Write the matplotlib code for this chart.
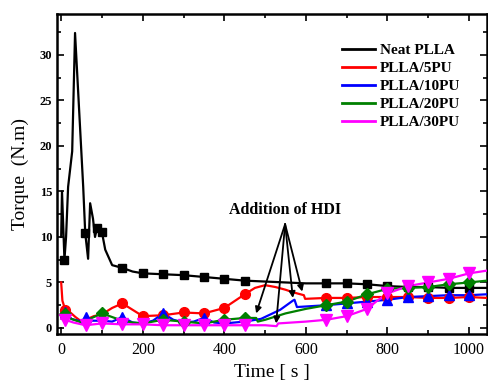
import numpy as np
import matplotlib
matplotlib.use("Agg")
import matplotlib.pyplot as plt
from matplotlib.ticker import MultipleLocator

# ---- data ----
neat_t = [0, 2, 8, 12, 17, 27, 34, 54, 59, 66, 71, 78, 83, 88, 93, 100, 108, 125, 150, 175, 200, 250, 300, 350, 400, 450,
          500, 550, 600, 650, 700, 750, 800, 850, 900, 950, 1000, 1044]
neat_v = [10.0, 15.0, 7.5, 10.0, 15.5, 19.4, 32.4, 15.5, 10.4, 7.6, 13.7, 12.0, 10.0, 11.0, 10.5, 10.5, 8.6, 6.9, 6.6, 6.2, 6.0, 5.9, 5.8, 5.6, 5.4, 5.2,
          5.1, 5.0, 4.9, 4.9, 4.9, 4.8, 4.6, 4.5, 4.5, 4.4, 4.4, 4.4]
neat_m = [8, 59, 88, 100, 150, 200, 250, 300, 350, 400, 450, 650, 700, 750, 800, 850, 900, 950, 1000]

pu5_t = [0, 3, 10, 20, 35, 50, 65, 80, 100, 125, 150, 175, 200, 250, 300, 350, 400, 450, 475, 500, 525, 550, 570, 595, 598,
         650, 700, 750, 800, 850, 900, 950, 1000, 1044]
pu5_v = [5.0, 3.0, 2.0, 1.8, 1.2, 0.7, 1.0, 1.3, 1.5, 2.2, 2.7, 2.0, 1.3, 1.4, 1.7, 1.6, 2.2, 3.7, 4.4, 4.7, 4.5, 4.2, 3.9, 3.6, 3.2,
         3.3, 3.3, 3.4, 3.4, 3.4, 3.3, 3.3, 3.4, 3.3]
pu5_m = [10, 150, 200, 250, 300, 350, 400, 450, 650, 700, 750, 800, 850, 900, 950, 1000]

pu10_t = [0, 10, 25, 50, 60, 75, 100, 125, 150, 175, 200, 225, 250, 275, 300, 325, 350, 375, 400, 425, 450, 490, 537, 568, 572, 578,
          650, 700, 750, 800, 850, 900, 950, 1000, 1044]
pu10_v = [1.9, 1.7, 1.0, 0.7, 1.2, 0.8, 0.8, 0.7, 1.2, 0.6, 0.5, 0.8, 1.6, 0.9, 0.6, 0.7, 1.1, 0.6, 0.5, 0.6, 0.7, 1.0, 2.0, 3.0, 3.1, 2.3,
          2.5, 2.7, 2.9, 3.1, 3.4, 3.5, 3.6, 3.6, 3.7]
pu10_m = [10, 60, 150, 250, 350, 650, 700, 750, 800, 850, 900, 950, 1000]

pu20_t = [0, 10, 25, 50, 75, 100, 125, 150, 175, 200, 250, 300, 350, 400, 450, 478, 482, 500, 550, 600,
          650, 700, 750, 800, 850, 900, 950, 1000, 1044]
pu20_v = [1.6, 1.5, 1.0, 0.6, 1.1, 1.6, 1.2, 0.8, 0.6, 0.5, 0.9, 0.7, 0.5, 0.9, 1.1, 1.1, 0.7, 0.9, 1.6, 2.1,
          2.5, 2.9, 3.7, 4.3, 4.4, 4.5, 4.8, 5.0, 5.2]
pu20_m = [10, 100, 250, 300, 400, 450, 650, 700, 750, 800, 850, 900, 950, 1000]

pu30_t = [0, 10, 30, 60, 100, 150, 200, 250, 300, 350, 400, 450, 500, 528, 532, 600, 650, 700, 750, 775, 800, 850, 900, 950, 1000, 1044]
pu30_v = [1.0, 0.9, 0.6, 0.3, 0.5, 0.4, 0.4, 0.3, 0.3, 0.3, 0.3, 0.3, 0.3, 0.2, 0.5, 0.7, 0.9, 1.3, 2.1, 3.0, 3.8, 4.6, 5.0, 5.4, 6.0, 6.3]
pu30_m = [10, 60, 100, 150, 200, 250, 300, 350, 400, 450, 650, 700, 750, 800, 850, 900, 950, 1000]

labels = ["Neat PLLA", "PLLA/5PU", "PLLA/10PU", "PLLA/20PU", "PLLA/30PU"]
annot_text = "Addition of HDI"
annot_xy = (549, 11.4)
arrow_tips = [(478, 1.6), (527, 0.5), (568, 3.3), (591, 4.0)]

x_ticks = [0, 200, 400, 600, 800, 1000]
y_ticks = [0, 5, 10, 15, 20, 25, 30]

# ---- plotting ----
plt.rcParams['font.family'] = ['Liberation Serif', 'DejaVu Serif']
fig = plt.figure(figsize=(4.88, 3.85), dpi=100)
ax = fig.add_axes([0.117, 0.1325, 0.881, 0.8315])

series = [
    (neat_t, neat_v, neat_m, 'black', 's'),
    (pu5_t, pu5_v, pu5_m, 'red', 'o'),
    (pu10_t, pu10_v, pu10_m, 'blue', '^'),
    (pu20_t, pu20_v, pu20_m, 'green', 'D'),
    (pu30_t, pu30_v, pu30_m, 'magenta', 'v'),
]
ms = {'s': 6, 'o': 7, '^': 7.5, 'D': 6, 'v': 8}
for (t, v, m, c, mk), lab in zip(series, labels):
    t = np.asarray(t); v = np.asarray(v)
    ax.plot(t, v, color=c, lw=1.6, label=lab, zorder=3)
    mask = np.isin(t, m)
    ax.plot(t[mask], v[mask], ls='none', marker=mk, color=c, ms=ms[mk], zorder=4)

ax.text(annot_xy[0], 12.1, annot_text, ha='center', va='bottom', fontsize=11.5, fontweight='bold')
for tip in arrow_tips:
    ax.annotate('', xy=tip, xytext=annot_xy,
                arrowprops=dict(arrowstyle='-|>', color='black', lw=1.3, mutation_scale=9, shrinkA=0, shrinkB=0))

ax.set_xlim(-10, 1044)
ax.set_ylim(-0.66, 34.5)
ax.set_xticks(x_ticks)
ax.set_yticks(y_ticks)
ax.xaxis.set_minor_locator(MultipleLocator(100))
ax.yaxis.set_minor_locator(MultipleLocator(2.5))
ax.tick_params(which='both', direction='in', top=True, right=True, width=1.2)
ax.tick_params(which='major', length=5)
ax.tick_params(which='minor', length=3)
ax.tick_params(axis='x', labelsize=11.5, pad=6)
ax.tick_params(axis='y', labelsize=9)
for lab in ax.get_yticklabels():
    lab.set_fontweight('bold')
for sp in ax.spines.values():
    sp.set_linewidth(1.8)

ax.set_xlabel("Time [ s ]", fontsize=14, labelpad=4)
ax.set_ylabel("Torque  (N.m)", fontsize=14, labelpad=8)

leg = ax.legend(loc='upper right', bbox_to_anchor=(0.952, 0.927), frameon=False,
                prop={'weight': 'bold', 'size': 11}, handlelength=2.2, handletextpad=0.3,
                labelspacing=0.28, borderaxespad=0)
for h in leg.get_lines():
    h.set_linewidth(2)

fig.savefig("out.png", dpi=100)
